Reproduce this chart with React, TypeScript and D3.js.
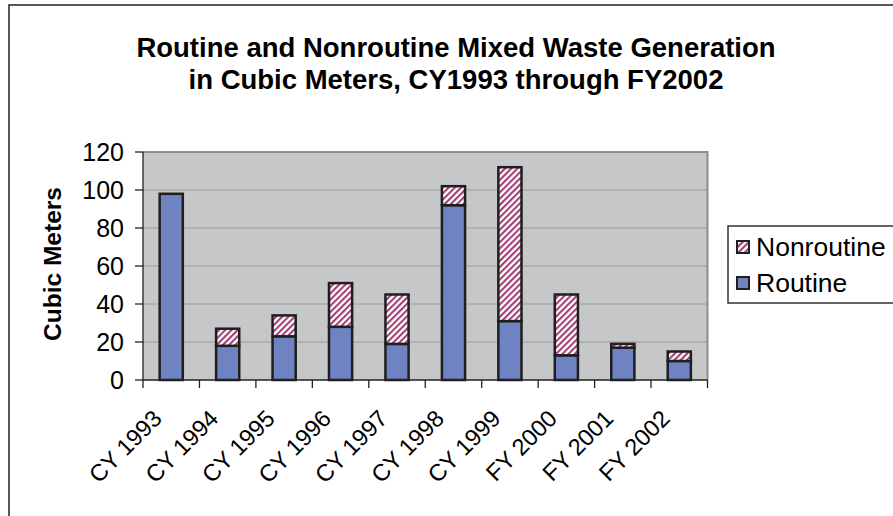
import React from "react";
import * as d3 from "d3";

const categories = ["CY 1993", "CY 1994", "CY 1995", "CY 1996", "CY 1997", "CY 1998", "CY 1999", "FY 2000", "FY 2001", "FY 2002"];
const routine = [98, 18, 23, 28, 19, 92, 31, 13, 17, 10];
const nonroutine = [0, 9, 11, 23, 26, 10, 81, 32, 2, 5];
const yTicks = [0, 20, 40, 60, 80, 100, 120];
const seriesNames = ["Routine", "Nonroutine"];
const titleLines = ["Routine and Nonroutine Mixed Waste Generation", "in Cubic Meters, CY1993 through FY2002"];
const yAxisTitle = "Cubic Meters";

const W = 893;
const H = 516;
const plot = { left: 143, right: 707.5, top: 152, bottom: 380 };
const FONT = "'Liberation Sans', Arial, Helvetica, sans-serif";
const BLUE = "#6f83c3";
const HATCH = "#9a2d68";
const EDGE = "#1e1e1e";

export default function App() {
  const x = d3.scaleBand<string>().domain(categories).range([plot.left, plot.right]).paddingInner(0.59).paddingOuter(0.295);
  const y = d3.scaleLinear().domain([0, 120]).range([plot.bottom, plot.top]);
  const table = categories.map((c, i) => ({ cat: c, Routine: routine[i], Nonroutine: nonroutine[i] }));
  const stack = d3.stack<any>().keys(seriesNames)(table);
  const step = x.step();
  const boundaries = d3.range(categories.length + 1).map((i) => plot.left + i * step);

  return (
    <svg width={W} height={H} style={{ position: "absolute", left: 0, top: 0, background: "#fff" }} fontFamily={FONT}>
      <defs>
        <pattern id="hatch" width="4.4" height="4.4" patternUnits="userSpaceOnUse" patternTransform="rotate(45)">
          <rect width="4.4" height="4.4" fill="#ffffff" />
          <line x1="1.1" y1="0" x2="1.1" y2="4.4" stroke={HATCH} strokeWidth="1.9" />
        </pattern>
      </defs>
      {/* outer chart frame */}
      <path d={`M9,${H + 5} L9,5 L${W + 5},5`} fill="none" stroke="#222" strokeWidth={1.5} />
      {/* title */}
      {titleLines.map((t, i) => (
        <text key={i} x={456} y={57 + i * 32} textAnchor="middle" fontSize={27.5} fontWeight="bold" fill="#000">
          {t}
        </text>
      ))}
      {/* plot area */}
      <rect x={plot.left} y={plot.top} width={plot.right - plot.left} height={plot.bottom - plot.top} fill="#c6c7c9" />
      {yTicks.filter((t) => t > 0).map((t) => (
        <line key={t} x1={plot.left} x2={plot.right} y1={y(t)} y2={y(t)} stroke="#9c9c9e" strokeWidth={1} />
      ))}
      <path d={`M${plot.left},${plot.top} L${plot.right},${plot.top} L${plot.right},${plot.bottom}`} fill="none" stroke="#8d8d8f" strokeWidth={2} />
      {/* bars */}
      {stack.map((s) => (
        <g key={s.key}>
          {s.map((d, i) => {
            const h = y(d[0]) - y(d[1]);
            if (h <= 0) return null;
            return (
              <rect
                key={i}
                x={x(categories[i])}
                y={y(d[1])}
                width={x.bandwidth()}
                height={h}
                fill={s.key === "Routine" ? BLUE : "url(#hatch)"}
                stroke={EDGE}
                strokeWidth={2.5}
              />
            );
          })}
        </g>
      ))}
      {/* axes */}
      <line x1={plot.left} x2={plot.left} y1={plot.top} y2={plot.bottom} stroke="#222" strokeWidth={1.3} />
      <line x1={plot.left} x2={plot.right} y1={plot.bottom} y2={plot.bottom} stroke="#222" strokeWidth={1.3} />
      {yTicks.map((t) => (
        <g key={t}>
          <line x1={plot.left - 8} x2={plot.left} y1={y(t)} y2={y(t)} stroke="#222" strokeWidth={1.3} />
          <text x={124} y={y(t)} dy="0.36em" textAnchor="end" fontSize={25} fill="#000">
            {t}
          </text>
        </g>
      ))}
      {boundaries.map((b, i) => (
        <line key={i} x1={b} x2={b} y1={plot.bottom} y2={plot.bottom + 8} stroke="#222" strokeWidth={1.3} />
      ))}
      {categories.map((c) => {
        const cx = (x(c) as number) + x.bandwidth() / 2 - 8;
        const cy = 420;
        return (
          <text key={c} x={cx} y={cy} transform={`rotate(-45, ${cx}, ${cy})`} textAnchor="end" fontSize={23.5} fill="#000">
            {c}
          </text>
        );
      })}
      {/* y axis title */}
      <text x={61} y={264} transform={`rotate(-90, 61, 264)`} textAnchor="middle" fontSize={24.5} fontWeight="bold" fill="#000">
        {yAxisTitle}
      </text>
      {/* legend */}
      <rect x={728} y={226} width={200} height={77} fill="#fff" stroke="#333" strokeWidth={1.5} />
      {["Nonroutine", "Routine"].map((name, i) => (
        <g key={name}>
          <rect x={737} y={241 + i * 36} width={12} height={12} fill={name === "Routine" ? BLUE : "url(#hatch)"} stroke={EDGE} strokeWidth={2} />
          <text x={756} y={256 + i * 36} fontSize={26.5} fill="#000">
            {name}
          </text>
        </g>
      ))}
    </svg>
  );
}
